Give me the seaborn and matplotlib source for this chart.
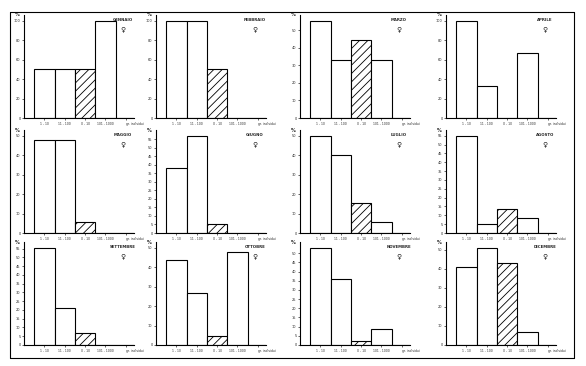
import numpy as np
import pandas as pd
import matplotlib
matplotlib.use("Agg")
import matplotlib.pyplot as plt
import seaborn as sns

# ========= Data =========
classes = ["1 - 10", "11 - 100", "0 - 10", "101 - 1000", "gr. individui"]
months = ["GENNAIO", "FEBBRAIO", "MARZO", "APRILE",
          "MAGGIO", "GIUGNO", "LUGLIO", "AGOSTO",
          "SETTEMBRE", "OTTOBRE", "NOVEMBRE", "DICEMBRE"]

gennaio = [50, 50, 50, 100, 0]
febbraio = [100, 100, 50, 0, 0]
marzo = [55.5, 33.3, 44.4, 33.3, 0]
aprile = [100, 33.3, 0, 66.7, 0]
maggio = [48, 48, 5.5, 0, 0]
giugno = [38, 57, 5, 0, 0]
luglio = [50, 40, 15.5, 5.5, 0]
agosto = [55, 5, 13.5, 8.5, 0]
settembre = [55.5, 21, 7, 0, 0]
ottobre = [43.5, 27, 4.5, 48, 0]
novembre = [53, 36, 2, 8.5, 0]
dicembre = [41, 51, 43, 7, 0]
values = [gennaio, febbraio, marzo, aprile, maggio, giugno,
          luglio, agosto, settembre, ottobre, novembre, dicembre]

# y tick range of each panel
tick_top = [100, 100, 50, 100, 50, 55, 50, 55, 55, 50, 50, 50]
tick_step = [20, 20, 10, 20, 10, 5, 10, 5, 5, 10, 5, 10]

# ========= Layout (pixels of the 586x366 picture) =========
W, H = 586, 366
col_left = [24, 156, 300, 446]
row_top = [15, 130, 242]
ax_w, ax_h = 110, 103

sns.set_theme(style="white")
plt.rcParams["font.family"] = ["DejaVu Sans"]
plt.rcParams["hatch.linewidth"] = 0.6

fig = plt.figure(figsize=(W / 100, H / 100), dpi=100)
fig.patch.set_facecolor("white")

for i, (month, vals) in enumerate(zip(months, values)):
    r, c = divmod(i, 4)
    ax = fig.add_axes([col_left[c] / W, 1 - (row_top[r] + ax_h) / H, ax_w / W, ax_h / H])
    df = pd.DataFrame({"classe": classes, "perc": vals})
    sns.barplot(data=df, x="classe", y="perc", color="white", edgecolor="black",
                linewidth=0.8, width=1.0, saturation=1, ax=ax)
    ax.patches[2].set_hatch("////")

    ax.set_xlim(-1.0, 4.4)
    ax.set_ylim(0, max(tick_top[i], max(vals)) * 1.06)
    ax.set_yticks(np.arange(0, tick_top[i] + 1, tick_step[i]))
    ax.set_xlabel("")
    ax.set_ylabel("")
    ax.set_facecolor("white")
    sns.despine(ax=ax)
    for s in ["left", "bottom"]:
        ax.spines[s].set_color("black")
        ax.spines[s].set_linewidth(0.8)
    ax.tick_params(axis="y", length=1.5, width=0.5, labelsize=2.5, pad=1, left=True)
    ax.tick_params(axis="x", length=1.2, width=0.5, labelsize=2.2, pad=2, bottom=True)
    # last class label sits a little right of its slot, as on the plate
    ax.get_xticklabels()[-1].set_ha("left")
    ax.get_xticklabels()[-1].set_x(3.8)

    ax.text(-0.04, 1.0, "%", transform=ax.transAxes, fontsize=3.5,
            ha="right", va="center", fontweight="bold")
    ax.text(0.9, 0.95, month, transform=ax.transAxes, fontsize=2.8,
            ha="center", va="center", fontweight="bold")
    ax.text(0.9, 0.86, "\u2640", transform=ax.transAxes, fontsize=5,
            ha="center", va="center")

# ========= Frame of the plate =========
frame = [((10, 574), (12, 12)), ((10, 574), (358, 358)),
         ((10, 10), (12, 358)), ((574, 574), (12, 358))]
for xs, ys in frame:
    fig.add_artist(plt.Line2D([x / W for x in xs], [1 - y / H for y in ys],
                              color="black", linewidth=0.8))

fig.savefig("out.png", dpi=100, facecolor="white")
